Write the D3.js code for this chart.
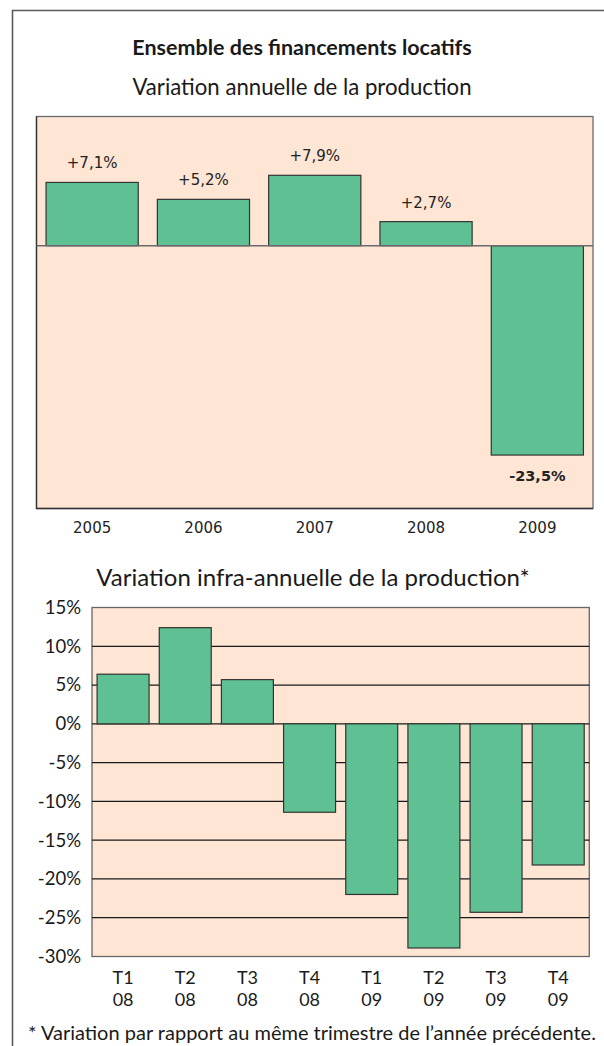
<!DOCTYPE html>
<html>
<head>
<meta charset="utf-8">
<script src="https://cdn.jsdelivr.net/npm/d3@7"></script>
<style>
    body { margin: 0; background: #fff; }
    svg { display: block; }
    .ttl { font-family: Lato, "Open Sans", sans-serif; fill: #1a1a1a; }
    .lbl { font-family: "DejaVu Sans", Verdana, sans-serif; fill: #222; }
</style>
</head>
<body>
<div id="chart"></div>
<script>
// annual variation of production (top chart)
const yearNames = ["2005", "2006", "2007", "2008", "2009"];
const yearValues = [7.1, 5.2, 7.9, 2.7, -23.5];
const yearTexts = ["+7,1%", "+5,2%", "+7,9%", "+2,7%", "-23,5%"];

// quarterly variation (bottom chart)
const quarterNames = ["T1", "T2", "T3", "T4", "T1", "T2", "T3", "T4"];
const quarterYears = ["08", "08", "08", "08", "09", "09", "09", "09"];
const quarterValues = [6.4, 12.4, 5.7, -11.4, -22.0, -28.9, -24.3, -18.2];
const quarterTicks = [15, 10, 5, 0, -5, -10, -15, -20, -25, -30];

const W = 604, H = 1046;
const peach = "#fee5d4", green = "#5fc193";

const svg = d3.select("#chart")
    .append("svg")
    .attr("width", W)
    .attr("height", H);

// outer frame (runs off the right and bottom of the picture)
svg.append("path")
    .attr("d", "M12.5," + H + "V10.5H" + (W + 5))
    .attr("fill", "none")
    .attr("stroke", "#5a5a5a")
    .attr("stroke-width", 1.6);

// titles
svg.append("text").classed("ttl", true)
    .attr("x", 302).attr("y", 55)
    .attr("text-anchor", "middle")
    .attr("font-size", 21.5).attr("font-weight", "bold")
    .text("Ensemble des financements locatifs");
svg.append("text").classed("ttl", true)
    .attr("x", 302).attr("y", 95)
    .attr("text-anchor", "middle")
    .attr("font-size", 22.2)
    .text("Variation annuelle de la production");

// ================= top chart =================
let x1 = d3.scaleBand()
    .domain(yearNames)
    .range([36.5, 593])
    .paddingInner(0.172)
    .paddingOuter(0.086);
let y1 = d3.scaleLinear()
    .domain([-29.5, 14.5])
    .range([508.5, 116.5]);

let g1 = svg.append("g");
g1.append("rect")
    .attr("x", 36.5).attr("y", 116.5)
    .attr("width", 593 - 36.5).attr("height", 508.5 - 116.5)
    .attr("fill", peach)
    .attr("stroke", "#6b6b6b")
    .attr("stroke-width", 1.3);
// darker left & bottom edges
g1.append("path")
    .attr("d", "M36.5,116.5V508.5H593")
    .attr("fill", "none").attr("stroke", "#333").attr("stroke-width", 1.3);

g1.selectAll("rect.bar")
    .data(yearValues)
    .enter()
    .append("rect")
    .classed("bar", true)
    .attr("x", (d, i) => x1(yearNames[i]))
    .attr("y", (d) => y1(Math.max(0, d)))
    .attr("width", x1.bandwidth())
    .attr("height", (d) => Math.abs(y1(d) - y1(0)))
    .attr("fill", green)
    .attr("stroke", "#333")
    .attr("stroke-width", 1.2);

// zero line
g1.append("line")
    .attr("x1", 36.5).attr("x2", 593)
    .attr("y1", y1(0)).attr("y2", y1(0))
    .attr("stroke", "#6b6b6b").attr("stroke-width", 1.4);

// value labels
g1.selectAll("text.val")
    .data(yearValues)
    .enter()
    .append("text")
    .classed("lbl", true)
    .attr("x", (d, i) => x1(yearNames[i]) + x1.bandwidth() / 2)
    .attr("y", (d) => d >= 0 ? y1(d) - 14 : y1(d) + 26)
    .attr("text-anchor", "middle")
    .attr("font-size", (d) => d < 0 ? 14.5 : 15)
    .attr("font-weight", (d) => d < 0 ? "bold" : "normal")
    .text((d, i) => yearTexts[i]);

// x axis labels (no axis line, only text)
let ax1 = g1.append("g")
    .attr("transform", "translate(0,508.5)")
    .call(d3.axisBottom(x1).tickSize(0).tickPadding(14));
ax1.select(".domain").remove();
ax1.selectAll("text")
    .classed("lbl", true)
    .attr("font-size", 15)
    .attr("fill", "#222");

// ================= bottom chart =================
svg.append("text").classed("ttl", true)
    .attr("x", 313).attr("y", 586)
    .attr("text-anchor", "middle")
    .attr("font-size", 24)
    .text("Variation infra-annuelle de la production*");

let qKeys = quarterNames.map((q, i) => i);
let x2 = d3.scaleBand()
    .domain(qKeys)
    .range([92, 589.3])
    .paddingInner(0.164)
    .paddingOuter(0.082);
let y2 = d3.scaleLinear()
    .domain([-30, 15])
    .range([956.5, 607.5]);

let g2 = svg.append("g");
g2.append("rect")
    .attr("x", 92).attr("y", 607.5)
    .attr("width", 589.3 - 92).attr("height", 956.5 - 607.5)
    .attr("fill", peach)
    .attr("stroke", "#666")
    .attr("stroke-width", 1.3);

// horizontal grid
g2.selectAll("line.grid")
    .data(quarterTicks.filter((t) => t < 15 && t > -30))
    .enter()
    .append("line")
    .attr("x1", 92).attr("x2", 589.3)
    .attr("y1", (d) => y2(d)).attr("y2", (d) => y2(d))
    .attr("stroke", "#1a1a1a").attr("stroke-width", 1.2);

g2.selectAll("rect.bar")
    .data(quarterValues)
    .enter()
    .append("rect")
    .classed("bar", true)
    .attr("x", (d, i) => x2(i))
    .attr("y", (d) => y2(Math.max(0, d)))
    .attr("width", x2.bandwidth())
    .attr("height", (d) => Math.abs(y2(d) - y2(0)))
    .attr("fill", green)
    .attr("stroke", "#333")
    .attr("stroke-width", 1.2);

// y axis
let ay2 = g2.append("g")
    .attr("transform", "translate(92,0)")
    .call(d3.axisLeft(y2).tickValues(quarterTicks).tickSize(0).tickPadding(11)
        .tickFormat((d) => d + "%"));
ay2.select(".domain").remove();
ay2.selectAll("text")
    .classed("ttl", true)
    .attr("font-size", 18.5)
    .attr("fill", "#333");

// x labels on two lines
let xl = g2.selectAll("g.xl")
    .data(qKeys)
    .enter()
    .append("g")
    .attr("transform", (d) => "translate(" + (x2(d) + x2.bandwidth() / 2) + ",0)");
xl.append("text").classed("ttl", true)
    .attr("y", 984).attr("text-anchor", "middle")
    .attr("font-size", 18).attr("fill", "#333")
    .text((d) => quarterNames[d]);
xl.append("text").classed("ttl", true)
    .attr("y", 1006).attr("text-anchor", "middle")
    .attr("font-size", 18).attr("fill", "#333")
    .text((d) => quarterYears[d]);

// footnote
svg.append("text").classed("ttl", true)
    .attr("x", 28).attr("y", 1040)
    .attr("font-size", 20)
    .text("*  Variation par rapport au même trimestre de l’année précédente.");
</script>
</body>
</html>
